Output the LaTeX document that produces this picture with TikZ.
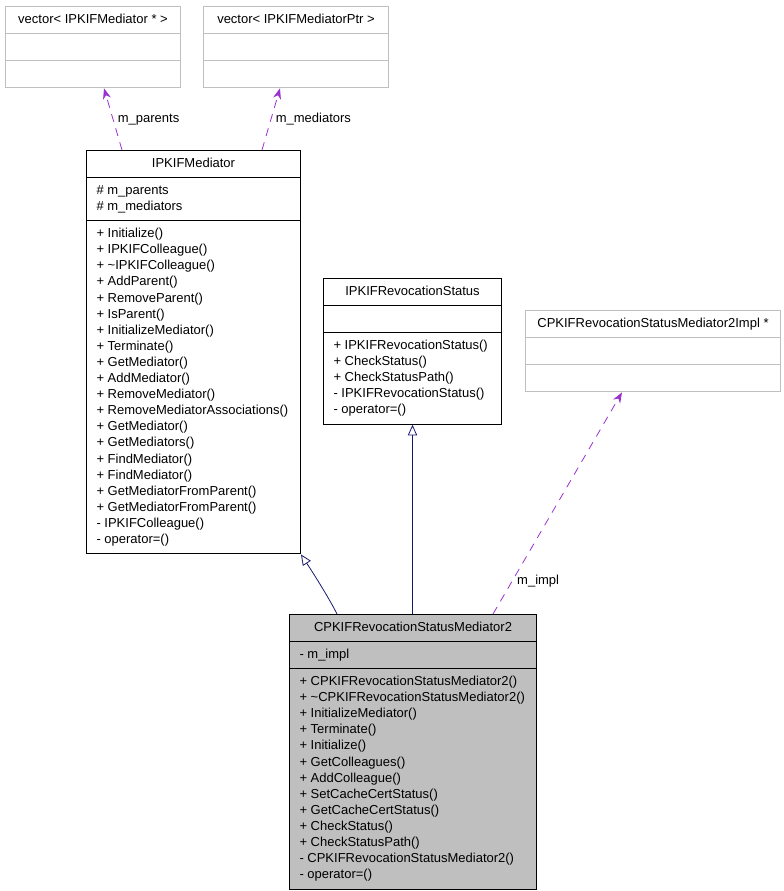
\documentclass[tikz,border=0pt]{standalone}
\usepackage{fontspec}
\setmainfont{Liberation Sans}
\usetikzlibrary{calc, arrows.meta, shapes.multipart}

\definecolor{inheritblue}{HTML}{191970}
\definecolor{usepurple}{HTML}{9A32CD}
\definecolor{boxgray}{HTML}{BFBFBF}

\tikzset{
  umlclass/.style={rectangle split, rectangle split parts=3, draw=black,
    rectangle split part align={center, left, left},
    line width=0.75pt, inner xsep=7.5pt, inner ysep=3.75pt, align=left,
    anchor=north west, font=\fontsize{9.75}{12.08}\selectfont},
  extclass/.style={umlclass, draw=boxgray},
  mainclass/.style={umlclass, fill=boxgray},
  inherit/.style={draw=inheritblue, line width=0.6pt,
    -{Triangle[open, length=8pt, width=7pt]}},
  usage/.style={draw=usepurple, line width=0.6pt, dash pattern=on 6pt off 5pt,
    -{Stealth[length=8pt, width=6pt]}},
  rolelabel/.style={font=\fontsize{9.75}{12.08}\selectfont, text=black}
}

\begin{document}
\begin{tikzpicture}[x=0.75pt, y=-0.75pt]
  \useasboundingbox (0,0) rectangle (784,891);

  % member types (gray)
  \node[extclass, minimum width=131.25pt] (vecParents) at (5,6)
    {\strut vector< IPKIFMediator * > \nodepart{two}\strut \nodepart{three}\strut};
  \node[extclass, minimum width=138.75pt] (vecMediators) at (203,6)
    {\strut vector< IPKIFMediatorPtr > \nodepart{two}\strut \nodepart{three}\strut};
  \node[extclass, minimum width=191.25pt] (implPtr) at (525,310)
    {\strut CPKIFRevocationStatusMediator2Impl * \nodepart{two}\strut \nodepart{three}\strut};

  % base classes
  \node[umlclass, minimum width=160.5pt] (mediator) at (86,150)
    {\strut IPKIFMediator
     \nodepart{two}\strut\# m\_parents\\
     \strut\# m\_mediators
     \nodepart{three}\strut+ Initialize()\\
     \strut+ IPKIFColleague()\\
     \strut+ \textasciitilde IPKIFColleague()\\
     \strut+ AddParent()\\
     \strut+ RemoveParent()\\
     \strut+ IsParent()\\
     \strut+ InitializeMediator()\\
     \strut+ Terminate()\\
     \strut+ GetMediator()\\
     \strut+ AddMediator()\\
     \strut+ RemoveMediator()\\
     \strut+ RemoveMediatorAssociations()\\
     \strut+ GetMediator()\\
     \strut+ GetMediators()\\
     \strut+ FindMediator()\\
     \strut+ FindMediator()\\
     \strut+ GetMediatorFromParent()\\
     \strut+ GetMediatorFromParent()\\
     \strut- IPKIFColleague()\\
     \strut- operator=()};
  \node[umlclass, minimum width=133.5pt] (revStatus) at (323,278)
    {\strut IPKIFRevocationStatus
     \nodepart{two}\strut
     \nodepart{three}\strut+ IPKIFRevocationStatus()\\
     \strut+ CheckStatus()\\
     \strut+ CheckStatusPath()\\
     \strut- IPKIFRevocationStatus()\\
     \strut- operator=()};

  % the documented class
  \node[mainclass, minimum width=185.25pt] (revMediator) at (289,614)
    {\strut CPKIFRevocationStatusMediator2
     \nodepart{two}\strut- m\_impl
     \nodepart{three}\strut+ CPKIFRevocationStatusMediator2()\\
     \strut+ \textasciitilde CPKIFRevocationStatusMediator2()\\
     \strut+ InitializeMediator()\\
     \strut+ Terminate()\\
     \strut+ Initialize()\\
     \strut+ GetColleagues()\\
     \strut+ AddColleague()\\
     \strut+ SetCacheCertStatus()\\
     \strut+ GetCacheCertStatus()\\
     \strut+ CheckStatus()\\
     \strut+ CheckStatusPath()\\
     \strut- CPKIFRevocationStatusMediator2()\\
     \strut- operator=()};

  % inheritance
  \draw[inherit] ($(revMediator.north west)+(48,0)$)
    .. controls ($(revMediator.north west)+(42,-12)$) and ($(revMediator.north west)+(30,-32)$)
    .. (mediator.south east);
  \draw[inherit] (revMediator.north -| revStatus.south) -- (revStatus.south);

  % usage
  \draw[usage] ($(mediator.north west)+(36,0)$)
    -- node[rolelabel, midway, right] {m\_parents} ($(vecParents.south west)+(99,0)$);
  \draw[usage] ($(mediator.north west)+(176,0)$)
    -- node[rolelabel, midway, right] {m\_mediators} ($(vecMediators.south west)+(77,0)$);
  \draw[usage] ($(revMediator.north west)+(204,0)$)
    -- node[rolelabel, pos=0.15, right] {m\_impl} ($(implPtr.south west)+(97,0)$);
\end{tikzpicture}
\end{document}
